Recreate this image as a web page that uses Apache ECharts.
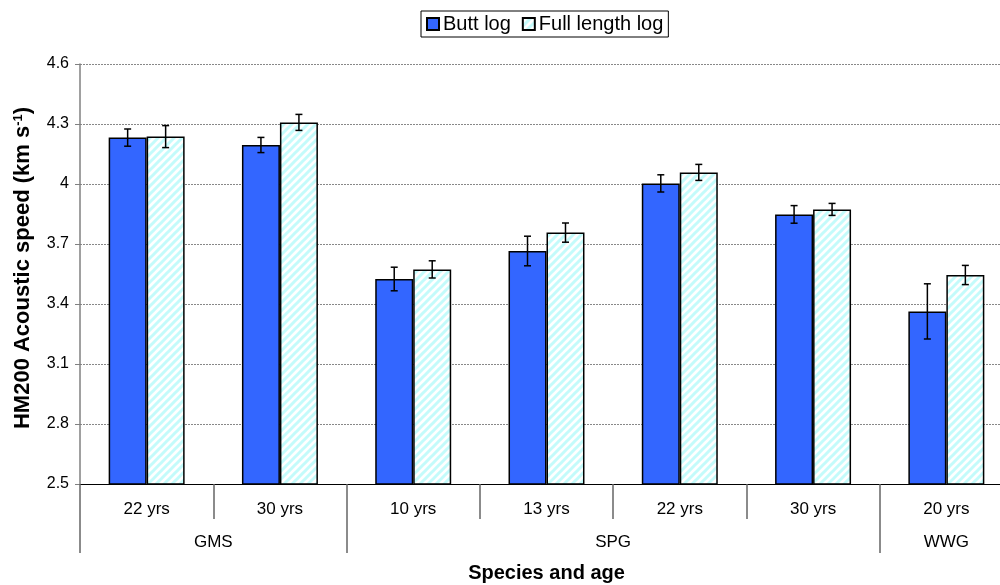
<!DOCTYPE html>
<html>
<head>
<meta charset="utf-8">
<script src="https://cdn.jsdelivr.net/npm/echarts@6/dist/echarts.min.js"></script>
<style>
  html, body { margin: 0; padding: 0; background: #fff; }
  #chart { width: 1000px; height: 585px; }
</style>
</head>
<body>
<div id="chart"></div>
<script>
// Species / age classes (bottom two axis rows)
var ages = ['22 yrs', '30 yrs', '10 yrs', '13 yrs', '22 yrs', '30 yrs', '20 yrs'];
var groupNames = ['GMS', 'SPG', 'WWG'];
var groupCenters = [1, 4, 6.5];        // midpoint of each species span, in category units
var groupStarts = [0, 2, 6];           // first category index of each species

// Mean HM200 acoustic speed (km/s) and standard error
var buttLog = [4.232, 4.195, 3.525, 3.665, 4.003, 3.848, 3.363];
var buttErr = [0.043, 0.038, 0.059, 0.074, 0.043, 0.044, 0.138];
var fullLog = [4.237, 4.308, 3.573, 3.757, 4.058, 3.873, 3.545];
var fullErr = [0.055, 0.040, 0.043, 0.048, 0.040, 0.030, 0.048];

// Y axis ticks
var yTicks = [2.5, 2.8, 3.1, 3.4, 3.7, 4.0, 4.3, 4.6];

var BAR_FRACTION = 0.285;   // bar width as a share of the category band

// Light cyan diagonal hatch used for the full length logs
function makeHatch() {
  var c = document.createElement('canvas');
  c.width = 8; c.height = 8;
  var g = c.getContext('2d');
  g.fillStyle = '#ffffff';
  g.fillRect(0, 0, 8, 8);
  g.strokeStyle = '#c4fbfb';
  g.lineWidth = 3;
  g.beginPath();
  g.moveTo(-2, 10); g.lineTo(10, -2);
  g.moveTo(-6, 6); g.lineTo(6, -6);
  g.moveTo(2, 14); g.lineTo(14, 2);
  g.stroke();
  return c;
}
var hatch = { image: makeHatch(), repeat: 'repeat' };

function errorData(means, errs) {
  return means.map(function (m, i) { return [i, m - errs[i], m + errs[i]]; });
}

function errorBars(side) {
  return function (params, api) {
    var idx = api.value(0);
    var lo = api.coord([idx, api.value(1)]);
    var hi = api.coord([idx, api.value(2)]);
    var band = api.size([1, 0])[0];
    var x = lo[0] + side * band * BAR_FRACTION / 2;
    var cap = 3.5;
    var style = { stroke: '#000', lineWidth: 1.5, fill: null };
    return {
      type: 'group',
      children: [
        { type: 'line', shape: { x1: x, y1: lo[1], x2: x, y2: hi[1] }, style: style },
        { type: 'line', shape: { x1: x - cap, y1: hi[1], x2: x + cap, y2: hi[1] }, style: style },
        { type: 'line', shape: { x1: x - cap, y1: lo[1], x2: x + cap, y2: lo[1] }, style: style }
      ]
    };
  };
}

var font = 'Arial, "Liberation Sans", sans-serif';
var chart = echarts.init(document.getElementById('chart'), null, { renderer: 'canvas' });

chart.setOption({
  backgroundColor: '#ffffff',
  animation: false,
  textStyle: { fontFamily: font },
  legend: {
    left: 421,
    top: 11,
    padding: [3, 5, 3, 5],
    itemGap: 11,
    itemWidth: 12,
    itemHeight: 12,
    borderColor: '#000',
    borderWidth: 1,
    icon: 'rect',
    textStyle: { fontSize: 20, color: '#000', fontFamily: font, padding: [0, 0, 0, -1] },
    data: ['Butt log', 'Full length log']
  },
  grid: { left: 80, right: -13, top: 64, bottom: 101, containLabel: false, outerBoundsMode: 'none' },
  xAxis: [
    {
      type: 'category',
      data: ages,
      position: 'bottom',
      axisLine: { show: true, onZero: false, lineStyle: { color: '#000', width: 1 } },
      axisTick: { show: true, length: 35, interval: 0, lineStyle: { color: '#666', width: 1.5 } },
      axisLabel: { fontSize: 17, color: '#000', margin: 17, interval: 0 },
      splitLine: { show: false }
    },
    {
      type: 'category',
      data: ages,
      position: 'bottom',
      axisLine: { show: false },
      axisTick: {
        show: true, length: 69,
        interval: function (i) { return groupStarts.indexOf(i) >= 0; },
        lineStyle: { color: '#666', width: 1.5 }
      },
      axisLabel: { show: false },
      splitLine: { show: false }
    },
    {
      type: 'value',
      min: 0,
      max: 7,
      position: 'bottom',
      axisLine: { show: false },
      axisTick: { show: false },
      splitLine: { show: false },
      axisLabel: {
        fontSize: 17, color: '#000', margin: 50,
        customValues: groupCenters,
        formatter: function (v) {
          var k = groupCenters.indexOf(v);
          return k >= 0 ? groupNames[k] : '';
        }
      },
      name: 'Species and age',
      nameLocation: 'middle',
      nameGap: 79,
      nameTextStyle: { fontSize: 20, fontWeight: 'bold', color: '#000', fontFamily: font }
    }
  ],
  yAxis: {
    type: 'value',
    min: 2.5,
    max: 4.6,
    axisLine: { show: true, lineStyle: { color: '#808080', width: 1.5 } },
    axisTick: { show: true, length: 5, inside: false, customValues: yTicks, lineStyle: { color: '#808080' } },
    axisLabel: { fontSize: 16, color: '#000', margin: 11, customValues: yTicks },
    splitLine: { show: true, lineStyle: { color: '#888', type: [2, 1], width: 1 } },
    name: '{t|HM200 Acoustic speed (km s}{s|-1}{t|)}',
    nameLocation: 'middle',
    nameGap: 46,
    nameTextStyle: {
      padding: [0, 0, 0, 12],
      rich: {
        t: { fontSize: 22, fontWeight: 'bold', color: '#000', fontFamily: font },
        s: { fontSize: 13, fontWeight: 'bold', color: '#000', fontFamily: font, verticalAlign: 'top', padding: [0, 0, 8, 0] }
      }
    }
  },
  series: [
    {
      name: 'Butt log',
      type: 'bar',
      xAxisIndex: 0,
      data: buttLog,
      barWidth: (BAR_FRACTION * 100) + '%',
      barGap: '0%',
      itemStyle: { color: '#3366ff', borderColor: '#000', borderWidth: 1.5 }
    },
    {
      name: 'Full length log',
      type: 'bar',
      xAxisIndex: 0,
      data: fullLog,
      barWidth: (BAR_FRACTION * 100) + '%',
      barGap: '0%',
      itemStyle: { color: hatch, borderColor: '#000', borderWidth: 1.5 }
    },
    {
      type: 'custom',
      xAxisIndex: 0,
      renderItem: errorBars(-1),
      data: errorData(buttLog, buttErr),
      encode: { x: 0, y: [1, 2] },
      z: 10,
      silent: true
    },
    {
      type: 'custom',
      xAxisIndex: 0,
      renderItem: errorBars(1),
      data: errorData(fullLog, fullErr),
      encode: { x: 0, y: [1, 2] },
      z: 10,
      silent: true
    }
  ]
});
</script>
</body>
</html>
